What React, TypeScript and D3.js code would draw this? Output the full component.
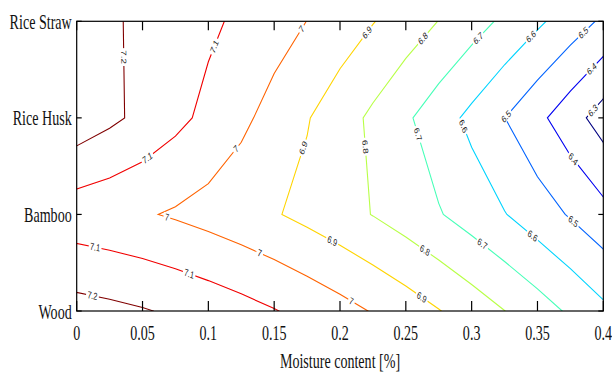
import React from 'react';
import * as d3 from 'd3';

// grid: one row of values per material, one column per moisture step
const moisture = [
  0, 0.025, 0.05, 0.075, 0.1, 0.125, 0.15, 0.175, 0.2,
  0.225, 0.25, 0.275, 0.3, 0.325, 0.35, 0.375, 0.4,
];
const materials = ['Wood', 'Bamboo', 'Rice Husk', 'Rice Straw'];
const wood = [
  7.238, 7.224, 7.207, 7.186, 7.162, 7.135, 7.105, 7.071, 7.034,
  6.994, 6.951, 6.904, 6.854, 6.801, 6.745, 6.685, 6.622,
];
const bamboo = [
  7.041, 7.027, 7.01, 6.989, 6.965, 6.938, 6.908, 6.874, 6.837,
  6.797, 6.754, 6.707, 6.657, 6.604, 6.548, 6.491, 6.432,
];
const riceHusk = [
  7.265, 7.221, 7.175, 7.126, 7.075, 7.021, 6.965, 6.906, 6.845,
  6.781, 6.715, 6.646, 6.575, 6.501, 6.425, 6.342, 6.255,
];
const riceStraw = [
  7.237, 7.212, 7.183, 7.152, 7.118, 7.081, 7.041, 6.999, 6.953,
  6.904, 6.853, 6.798, 6.741, 6.681, 6.617, 6.552, 6.483,
];

const levels = [6.3, 6.4, 6.5, 6.6, 6.7, 6.8, 6.9, 7, 7.1, 7.2];
const levelLabels = ['6.3', '6.4', '6.5', '6.6', '6.7', '6.8', '6.9', '7', '7.1', '7.2'];

const xTickValues = [0, 0.05, 0.1, 0.15, 0.2, 0.25, 0.3, 0.35, 0.4];
const xTickLabels = ['0', '0.05', '0.1', '0.15', '0.2', '0.25', '0.3', '0.35', '0.4'];

// rough spots of the inline labels: [level, moisture, material row]
const labelSpots: [number, number, number][] = [
  [7.2, 0.036, 2.63], [7.1, 0.1045, 2.74], [7, 0.171, 2.92], [6.9, 0.221, 2.88],
  [6.8, 0.264, 2.81], [6.7, 0.306, 2.81], [6.6, 0.346, 2.83], [6.5, 0.385, 2.88],
  [6.4, 0.391, 2.51], [6.3, 0.392, 2.08], [6.5, 0.325, 2.03], [6.6, 0.291, 1.9],
  [6.7, 0.257, 1.82], [6.8, 0.218, 1.7], [6.9, 0.172, 1.69], [7, 0.12, 1.69],
  [7.1, 0.054, 1.58], [7, 0.068, 0.95], [7.1, 0.014, 0.66], [7.1, 0.0855, 0.39],
  [7.2, 0.012, 0.16], [7, 0.139, 0.6], [7, 0.209, 0.11], [6.9, 0.1945, 0.735],
  [6.9, 0.2625, 0.15], [6.8, 0.2646, 0.63], [6.7, 0.309, 0.71], [6.6, 0.347, 0.79],
  [6.5, 0.378, 0.94], [6.4, 0.376, 1.56],
];

const W = 612, H = 372;
const left = 76.7, right = 603.3, top = 21.3, bottom = 311;
const serif = '"Liberation Serif", "Times New Roman", serif';
const sans = '"Liberation Sans", Arial, sans-serif';
const SX = 0.67; // the original figure is squashed horizontally
const LSX = 0.72;
const labelSize = 10;

const jet = (v: number) => {
  const c = (t: number) => Math.max(0, Math.min(1, t));
  const r = c(Math.min(4 * v - 1.5, -4 * v + 4.5));
  const g = c(Math.min(4 * v - 0.5, -4 * v + 3.5));
  const b = c(Math.min(4 * v + 0.5, -4 * v + 2.5));
  return d3.rgb(r * 255, g * 255, b * 255).formatHex();
};

const textWidth = (s: string) =>
  s.split('').reduce((a, ch) => a + (ch === '.' ? 0.278 : 0.556), 0) * labelSize;

export default function App() {
  const x = d3.scaleLinear().domain([0, 0.4]).range([left, right]);
  const y = d3.scaleLinear().domain([0, materials.length - 1]).range([bottom, top]);
  const color = d3.scaleLinear().domain([6.3, 7.2]).range([0, 1]);

  const nx = moisture.length, ny = materials.length;
  // d3.contours puts grid value i at coordinate i + 0.5
  const gx = d3.scaleLinear().domain([0.5, nx - 0.5]).range([moisture[0], moisture[nx - 1]]);
  const gy = d3.scaleLinear().domain([0.5, ny - 0.5]).range([0, ny - 1]);

  const grid = [wood, bamboo, riceHusk, riceStraw].flat();
  const contours = d3.contours().size([nx, ny]).thresholds(levels)(grid);

  const inside = (p: number[]) =>
    p[0] >= left - 0.5 && p[0] <= right + 0.5 && p[1] >= top - 0.5 && p[1] <= bottom + 0.5;

  const lines = contours.map((c) => {
    const rings = c.coordinates.flat().map((ring) =>
      ring.map(([cx, cy]) => [x(gx(cx)), y(gy(cy))])
    );
    const d = rings.map((r) => 'M' + r.map((p) => `${p[0]},${p[1]}`).join('L') + 'Z').join('');
    const segs: number[][][] = [];
    rings.forEach((r) => {
      for (let i = 1; i < r.length; i++) {
        if (inside(r[i - 1]) && inside(r[i])) segs.push([r[i - 1], r[i]]);
      }
    });
    return { value: c.value, d, segs };
  });

  const labels = labelSpots.map(([lv, mx, row], k) => {
    const line = lines.find((l) => Math.abs(l.value - lv) < 1e-6);
    const sx = x(mx), sy = y(row);
    let best = { d: Infinity, px: sx, py: sy, ang: 0 };
    (line ? line.segs : []).forEach(([a, b]) => {
      const vx = b[0] - a[0], vy = b[1] - a[1];
      const len2 = vx * vx + vy * vy;
      if (len2 === 0) return;
      const t = Math.max(0, Math.min(1, ((sx - a[0]) * vx + (sy - a[1]) * vy) / len2));
      const px = a[0] + t * vx, py = a[1] + t * vy;
      const dd = (px - sx) ** 2 + (py - sy) ** 2;
      if (dd < best.d) {
        let ang = (Math.atan2(vy, vx / LSX) * 180) / Math.PI;
        if (ang > 90) ang -= 180;
        if (ang <= -90) ang += 180;
        best = { d: dd, px, py, ang };
      }
    });
    const text = levelLabels[levels.findIndex((l) => Math.abs(l - lv) < 1e-6)];
    return { key: k, text, ...best };
  });

  return (
    <svg width={W} height={H} style={{ position: 'absolute', left: 0, top: 0, background: '#fff' }}>
      <defs>
        <clipPath id="plot">
          <rect x={left} y={top} width={right - left} height={bottom - top} />
        </clipPath>
      </defs>
      <rect x={0} y={0} width={W} height={H} fill="#fff" />

      <g clipPath="url(#plot)">
        {lines.map((l) => (
          <path key={l.value} d={l.d} fill="none" stroke={jet(color(l.value))} strokeWidth={1.1} />
        ))}
      </g>

      {labels.map((l) => {
        const w = textWidth(l.text);
        return (
          <g key={l.key} transform={`translate(${l.px},${l.py}) scale(${LSX},1) rotate(${l.ang})`}>
            <rect x={-w / 2 - 2} y={-4.5} width={w + 4} height={9} fill="#fff" />
            <text
              fontFamily={sans}
              fontSize={labelSize}
              fill="#222"
              textAnchor="middle"
              dominantBaseline="central"
            >
              {l.text}
            </text>
          </g>
        );
      })}

      {/* box */}
      <rect x={left} y={top} width={right - left} height={bottom - top} fill="none" stroke="#000" strokeWidth={1.2} />

      {xTickValues.map((v, i) => (
        <g key={'xt' + i}>
          <line x1={x(v)} x2={x(v)} y1={bottom} y2={bottom - 10} stroke="#000" strokeWidth={1.2} />
          <line x1={x(v)} x2={x(v)} y1={top} y2={top + 9} stroke="#000" strokeWidth={1.2} />
          <text
            transform={`translate(${x(v)},${bottom + 28.5}) scale(${SX},1)`}
            fontFamily={serif}
            fontSize={21}
            textAnchor="middle"
            fill="#111"
          >
            {xTickLabels[i]}
          </text>
        </g>
      ))}

      {materials.map((m, i) => (
        <g key={m}>
          <line x1={left} x2={left + 5} y1={y(i)} y2={y(i)} stroke="#000" strokeWidth={1.2} />
          <line x1={right} x2={right - 5} y1={y(i)} y2={y(i)} stroke="#000" strokeWidth={1.2} />
          <text
            transform={`translate(${left - 5},${y(i) + 7.5}) scale(${SX},1)`}
            fontFamily={serif}
            fontSize={21}
            textAnchor="end"
            fill="#111"
          >
            {m}
          </text>
        </g>
      ))}

      <text
        transform={`translate(${(left + right) / 2},${368}) scale(${SX},1)`}
        fontFamily={serif}
        fontSize={21}
        textAnchor="middle"
        fill="#111"
      >
        Moisture content [%]
      </text>
    </svg>
  );
}
